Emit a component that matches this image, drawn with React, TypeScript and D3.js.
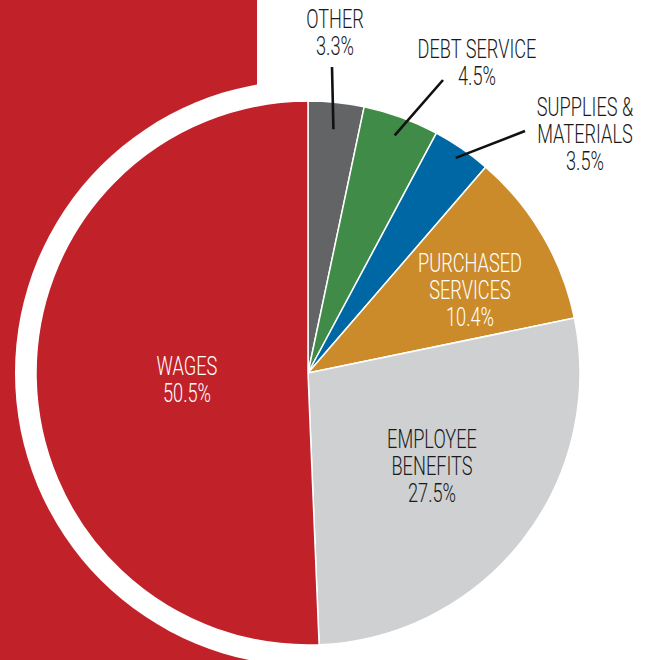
import React from "react";
import * as d3 from "d3";

const categories = ["OTHER", "DEBT SERVICE", "SUPPLIES & MATERIALS", "PURCHASED SERVICES", "EMPLOYEE BENEFITS", "WAGES"];
const values = [3.3, 4.5, 3.5, 10.4, 27.5, 50.5];
const colors = ["#636466", "#3f8b47", "#0067a5", "#cb8b2a", "#cfd0d2", "#c1222a"];
const labelLines = [["OTHER", "3.3%"], ["DEBT SERVICE", "4.5%"], ["SUPPLIES &", "MATERIALS", "3.5%"], ["PURCHASED", "SERVICES", "10.4%"], ["EMPLOYEE", "BENEFITS", "27.5%"], ["WAGES", "50.5%"]];
const labelColors = ["#1a1a1a", "#1a1a1a", "#1a1a1a", "#ffffff", "#1a1a1a", "#ffffff"];

const W = 647, H = 660;
const cx = 308, cy = 373;
const R = 272;
const ringR = 293;

// label anchor (center x, first baseline y) and leader-line outer point
const labelPos: [number, number][] = [[335, 28], [477, 58], [585, 116], [470, 272], [432, 448], [187, 375]];
const leaderOuter: ([number, number] | null)[] = [[332, 67], [443, 80], [525, 131], null, null, null];
const leaderInnerR = [245, 253, 261, 0, 0, 0];

export default function App() {
  const pie = d3.pie<number>().sort(null).value((d) => d);
  const arcs = pie(values);
  const arc = d3.arc<d3.PieArcDatum<number>>().innerRadius(0).outerRadius(R);
  const lh = 26.8;
  const sx = 0.7;
  return (
    <svg width={W} height={H} style={{ position: "absolute", left: 0, top: 0 }}>
      <rect x={0} y={0} width={257} height={H} fill="#c1222a" />
      <circle cx={cx} cy={cy} r={ringR} fill="#ffffff" />
      <g transform={`translate(${cx},${cy})`}>
        {arcs.map((a, i) => (
          <path key={categories[i]} d={arc(a) || ""} fill={colors[i]} stroke="#ffffff" strokeWidth={1.5} strokeLinejoin="round" />
        ))}
      </g>
      {arcs.map((a, i) => {
        const o = leaderOuter[i];
        if (!o) return null;
        const mid = (a.startAngle + a.endAngle) / 2;
        const r = leaderInnerR[i];
        const x2 = cx + r * Math.sin(mid);
        const y2 = cy - r * Math.cos(mid);
        return <line key={"l" + i} x1={o[0]} y1={o[1]} x2={x2} y2={y2} stroke="#111" strokeWidth={2.6} />;
      })}
      {labelLines.map((lines, i) => (
        <g key={"t" + i}>
          {lines.map((t, j) => (
            <text
              key={j}
              transform={`translate(${labelPos[i][0]},${labelPos[i][1] + j * lh}) scale(${sx},1)`}
              textAnchor="middle"
              fontFamily="Roboto, 'Noto Sans', sans-serif"
              fontWeight={300}
              fontSize={26}
              fill={labelColors[i]}
            >
              {t}
            </text>
          ))}
        </g>
      ))}
    </svg>
  );
}
